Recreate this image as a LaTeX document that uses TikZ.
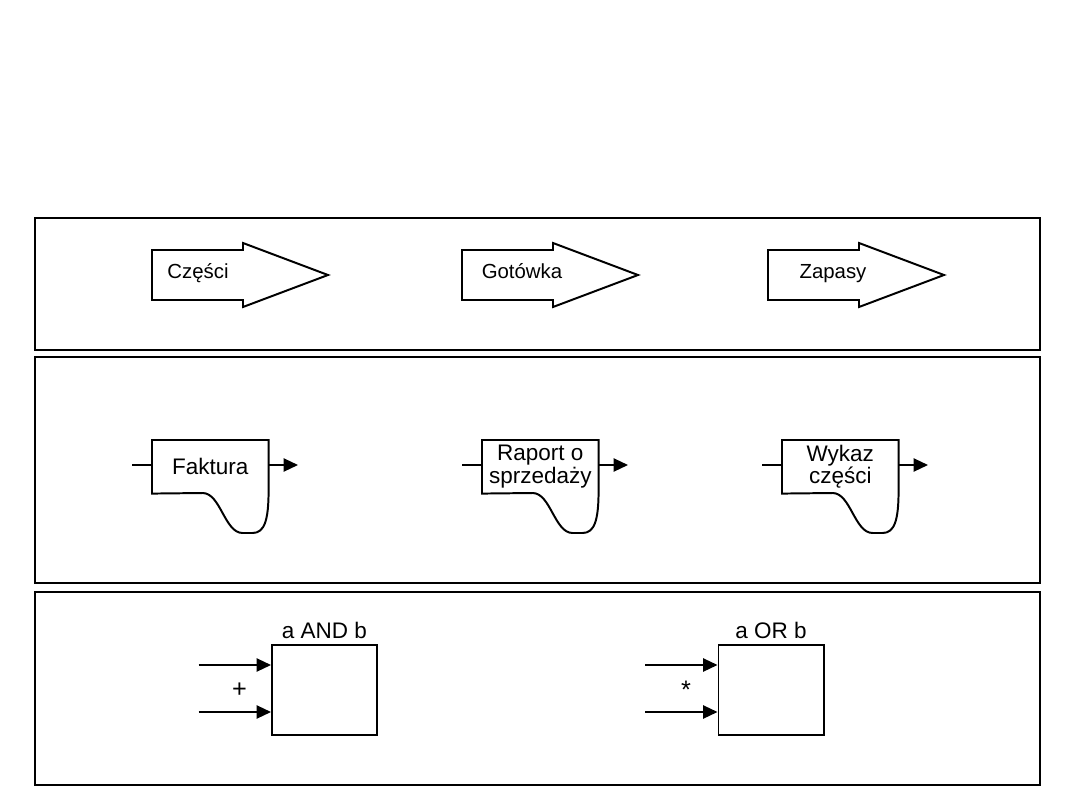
\documentclass[tikz,border=0pt]{standalone}
\usepackage{fontspec}
\setmainfont{Liberation Sans}
\usetikzlibrary{arrows.meta, positioning, calc}

\begin{document}
\begin{tikzpicture}[
    x=0.025cm, y=-0.025cm,
    font=\fontsize{16}{16}\selectfont,
    panel/.style={draw=black, line width=1.9pt},
    flow/.style={draw=black, line width=1.4pt, line join=miter},
    flowtext/.style={font=\fontsize{14.5}{16}\selectfont, anchor=base},
    docbody/.style={minimum width=2.9cm, minimum height=1.325cm, inner sep=1pt, align=center},
    doc/.style={draw=black, line width=1.4pt},
    gate/.style={draw=black, line width=1.4pt, minimum width=2.625cm, minimum height=2.25cm},
    feed/.style={line width=1.3pt, -{Triangle[length=3.6mm, width=3.3mm]}},
]
\useasboundingbox (0,0) rectangle (1080,810);

% ---- ramki ----
\draw[panel] (35,218) rectangle (1040,350);
\draw[panel] (35,357) rectangle (1040,583);
\draw[panel] (35,592) rectangle (1040,785);

% ---- przeplywy ----
\foreach \x/\dx/\txt [count=\i] in {152/46/Części, 462/60/Gotówka, 768/65/Zapasy}{
    \draw[flow] (\x,250) -- ++(91,0) -- ++(0,-7) -- ++(85,32) -- ++(-85,32)
        -- ++(0,-7) -- ++(-91,0) -- cycle;
    \node[flowtext] (res\i) at (\x+\dx,278) {\txt};
}

% ---- dokumenty ----
\foreach \x/\nm/\txt in {152/fak/Faktura, 482/rap/{Raport o\\sprzedaży}, 782/wyk/{Wykaz\\części}}{
    \node[docbody, anchor=north west] (\nm) at (\x,440) {\txt};
    \draw[doc] (\nm.north west) -- (\nm.north east) -- ++(0,50)
        .. controls +(0,30) and +(12,0) .. ++(-16,43) -- ++(-10,0)
        .. controls +(-18,0) and +(18,0) .. ++(-40,-40) -- (\nm.south west) -- cycle;
    \coordinate (\nm-in) at (\x-20,465);
    \coordinate (\nm-out) at (\x+146,465);
    \draw[line width=1.3pt] (\nm-in) -- (\nm-in -| \nm.west);
    \draw[feed] (\nm-out -| \nm.east) -- (\nm-out);
}

% ---- bramki ----
\foreach \nm/\x/\lbl/\op in {and/324.5/a AND b/+, or/771/a OR b/*}{
    \node[gate] (\nm) at (\x,690) {};
    \node[above=0pt of \nm] (\nm-lbl) {\lbl};
    \coordinate (\nm-a) at (\x-126,665);
    \coordinate (\nm-b) at (\x-126,712);
    \draw[feed] (\nm-a) -- (\nm-a -| \nm.west);
    \draw[feed] (\nm-b) -- (\nm-b -| \nm.west);
    \node[font=\fontsize{18}{18}\selectfont] (\nm-op) at (\x-85,690) {\op};
}

\end{tikzpicture}
\end{document}
